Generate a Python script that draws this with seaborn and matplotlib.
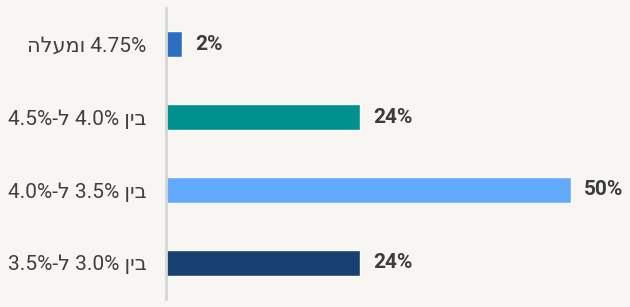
import re
import matplotlib
matplotlib.use("Agg")
import matplotlib.pyplot as plt
import seaborn as sns
import pandas as pd

categories = ["4.75% ומעלה", "בין 4.0% ל-4.5%", "בין 3.5% ל-4.0%", "בין 3.0% ל-3.5%"]
values = [2, 24, 50, 24]
value_labels = ["2%", "24%", "50%", "24%"]
colors = ["#2b6fc3", "#00918e", "#62aaff", "#173f70"]


def to_visual(s):
    # simple RTL reordering for display (matplotlib has no bidi support)
    r = s[::-1]
    return re.sub(r"[0-9.%]+", lambda m: m.group(0)[::-1], r)


BG = "#f8f6f2"
sns.set_theme(style="white")
plt.rcParams["font.family"] = ["Roboto", "DejaVu Sans"]

df = pd.DataFrame({"cat": [to_visual(c) for c in categories], "val": values})

fig = plt.figure(figsize=(6.3, 3.07), dpi=100, facecolor=BG)
ax = fig.add_axes([166 / 630, 1 - 299 / 307, 1 - 166 / 630, 291 / 307])
ax.set_facecolor(BG)

sns.barplot(data=df, x="val", y="cat", hue="cat", palette=colors, legend=False,
            width=0.36, ax=ax, saturation=1, orient="h")

ax.set_xlim(0, 57.3)
ax.set_ylim(3.5, -0.5)
ax.set_xlabel("")
ax.set_ylabel("")
ax.set_xticks([])
for s in ["top", "right", "bottom"]:
    ax.spines[s].set_visible(False)
ax.spines["left"].set_color("#d6d6d6")
ax.spines["left"].set_linewidth(2)
ax.tick_params(axis="y", length=0, pad=14, labelsize=15, labelcolor="#3f3f3f")

for i, (v, lab) in enumerate(zip(values, value_labels)):
    ax.annotate(lab, xy=(v, i), xytext=(13, 0), textcoords="offset pixels",
                va="center", ha="left", fontsize=15, fontweight="bold",
                color="#3c3c3c")

fig.savefig("out.png", dpi=100, facecolor=BG)
